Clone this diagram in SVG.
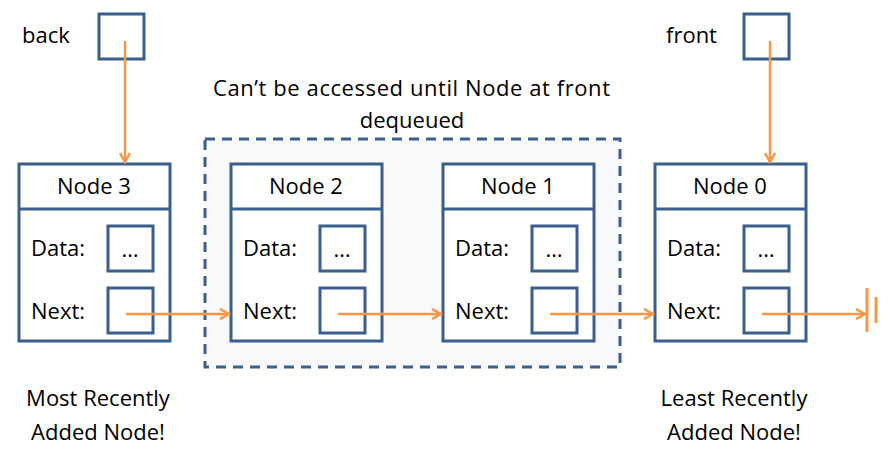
<svg xmlns="http://www.w3.org/2000/svg" width="896" height="459" viewBox="0 0 896 459">
<defs>
<style>
.box{fill:#fff;stroke:#3B5F8D;stroke-width:3}
.t{font-family:"Open Sans","Liberation Sans",Arial,sans-serif;font-size:22px;fill:#000}
.c{text-anchor:middle}
.ln{stroke:#F79646;stroke-width:2.5;fill:none}
</style>
<marker id="ah" markerWidth="12" markerHeight="12" refX="10" refY="6" orient="auto" markerUnits="userSpaceOnUse">
<path d="M1,1 L10,6 L1,11" fill="none" stroke="#F79646" stroke-width="2.5"/>
</marker>
</defs>
<rect width="896" height="459" fill="#fff"/>
<g id="group">
<rect x="205" y="139" width="415" height="228" fill="#F8F9FB" stroke="#3B5F8D" stroke-width="3" stroke-dasharray="10,7"/>
<text class="t" x="213" y="96" textLength="397" lengthAdjust="spacing">Can’t be accessed until Node at front</text>
<text class="t c" x="412" y="128">dequeued</text>
</g>
<g id="back">
<text class="t" x="22" y="43">back</text>
<rect class="box" x="99" y="14" width="45" height="45"/>
</g>
<g id="front">
<text class="t" x="666" y="43">front</text>
<rect class="box" x="744" y="14" width="45" height="45"/>
</g>
<g id="node3">
<rect class="box" x="19" y="164" width="151" height="177"/>
<line x1="19" y1="209" x2="170" y2="209" stroke="#3B5F8D" stroke-width="3"/>
<text class="t c" x="94" y="194">Node 3</text>
<text class="t" x="31" y="256">Data:</text>
<rect class="box" x="108" y="226" width="45" height="45"/>
<text class="t c" x="130" y="257">…</text>
<text class="t" x="31" y="319">Next:</text>
<rect class="box" x="108" y="288" width="45" height="45"/>
</g>
<g id="node2">
<rect class="box" x="231" y="164" width="151" height="177"/>
<line x1="231" y1="209" x2="382" y2="209" stroke="#3B5F8D" stroke-width="3"/>
<text class="t c" x="306" y="194">Node 2</text>
<text class="t" x="243" y="256">Data:</text>
<rect class="box" x="320" y="226" width="45" height="45"/>
<text class="t c" x="342" y="257">…</text>
<text class="t" x="243" y="319">Next:</text>
<rect class="box" x="320" y="288" width="45" height="45"/>
</g>
<g id="node1">
<rect class="box" x="443" y="164" width="151" height="177"/>
<line x1="443" y1="209" x2="594" y2="209" stroke="#3B5F8D" stroke-width="3"/>
<text class="t c" x="518" y="194">Node 1</text>
<text class="t" x="455" y="256">Data:</text>
<rect class="box" x="532" y="226" width="45" height="45"/>
<text class="t c" x="554" y="257">…</text>
<text class="t" x="455" y="319">Next:</text>
<rect class="box" x="532" y="288" width="45" height="45"/>
</g>
<g id="node0">
<rect class="box" x="655" y="164" width="151" height="177"/>
<line x1="655" y1="209" x2="806" y2="209" stroke="#3B5F8D" stroke-width="3"/>
<text class="t c" x="730" y="194">Node 0</text>
<text class="t" x="667" y="256">Data:</text>
<rect class="box" x="744" y="226" width="45" height="45"/>
<text class="t c" x="766" y="257">…</text>
<text class="t" x="667" y="319">Next:</text>
<rect class="box" x="744" y="288" width="45" height="45"/>
</g>
<g id="labels">
<text class="t c" x="98" y="406">Most Recently</text>
<text class="t c" x="98" y="440">Added Node!</text>
<text class="t c" x="734" y="406">Least Recently</text>
<text class="t c" x="734" y="440">Added Node!</text>
</g>
<g id="connectors">
<line class="ln" x1="125" y1="41" x2="125" y2="162" marker-end="url(#ah)"/>
<line class="ln" x1="770" y1="41" x2="770" y2="162" marker-end="url(#ah)"/>
<line class="ln" x1="126" y1="314" x2="229" y2="314" marker-end="url(#ah)"/>
<line class="ln" x1="338" y1="314" x2="441" y2="314" marker-end="url(#ah)"/>
<line class="ln" x1="550" y1="314" x2="653" y2="314" marker-end="url(#ah)"/>
<line class="ln" x1="762" y1="314" x2="865" y2="314" marker-end="url(#ah)"/>
<line x1="867" y1="288" x2="867" y2="332" stroke="#F79646" stroke-width="3"/>
<line x1="876" y1="297" x2="876" y2="323" stroke="#F79646" stroke-width="3"/>
</g>
</svg>
